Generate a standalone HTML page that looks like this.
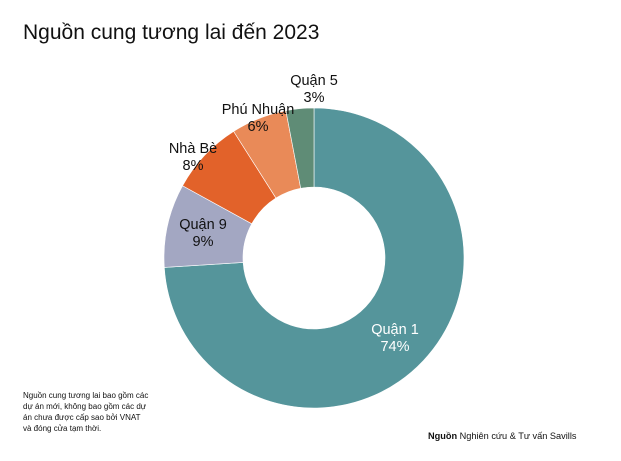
<!DOCTYPE html>
<html><head><meta charset="utf-8"><style>
body{margin:0;background:#fff;width:621px;height:456px;overflow:hidden;font-family:"Liberation Sans",Arial,sans-serif}
</style></head><body>
<svg id="s" width="621" height="456" xmlns="http://www.w3.org/2000/svg" font-family="Liberation Sans, Arial, sans-serif">
<text x="23" y="39" font-size="21" fill="#111">Nguồn cung tương lai đến 2023</text>
<g id="d"></g>
<g font-size="14.5" text-anchor="middle" fill="#111">
<text x="314" y="85">Quận 5</text><text x="314" y="102">3%</text>
<text x="258" y="114">Phú Nhuận</text><text x="258" y="131">6%</text>
<text x="193" y="153">Nhà Bè</text><text x="193" y="170">8%</text>
<text x="203" y="229">Quận 9</text><text x="203" y="246">9%</text>
<text x="395" y="334" fill="#fff">Quận 1</text><text x="395" y="351" fill="#fff">74%</text>
</g>
<g font-size="8" fill="#111">
<text x="23" y="398">Nguồn cung tương lai bao gồm các</text>
<text x="23" y="409">dự án mới, không bao gồm các dự</text>
<text x="23" y="420">án chưa được cấp sao bởi VNAT</text>
<text x="23" y="431">và đóng cửa tạm thời.</text>
</g>
<text x="428" y="439" font-size="9.2" fill="#111"><tspan font-weight="bold">Nguồn</tspan> Nghiên cứu &amp; Tư vấn Savills</text>
</svg>
<script>
var cx=314,cy=258,R=150,r=71;
var segs=[[74,"#55959B"],[9,"#A3A7C2"],[8,"#E2622A"],[6,"#E98A58"],[3,"#5F8C76"]];
var a=0,g=document.getElementById("d"),h="";
function p(ang,rad){var t=ang/100*2*Math.PI;return [cx+rad*Math.sin(t),cy-rad*Math.cos(t)];}
segs.forEach(function(s){var b=a+s[0],l=s[0]>50?1:0;
var p1=p(a,R),p2=p(b,R),p3=p(b,r),p4=p(a,r);
h+='<path fill="'+s[1]+'" stroke="#fff" stroke-width="0.6" d="M'+p1+' A'+R+','+R+' 0 '+l+' 1 '+p2+' L'+p3+' A'+r+','+r+' 0 '+l+' 0 '+p4+'Z"/>';a=b;});
g.innerHTML=h;
</script>
</body></html>
